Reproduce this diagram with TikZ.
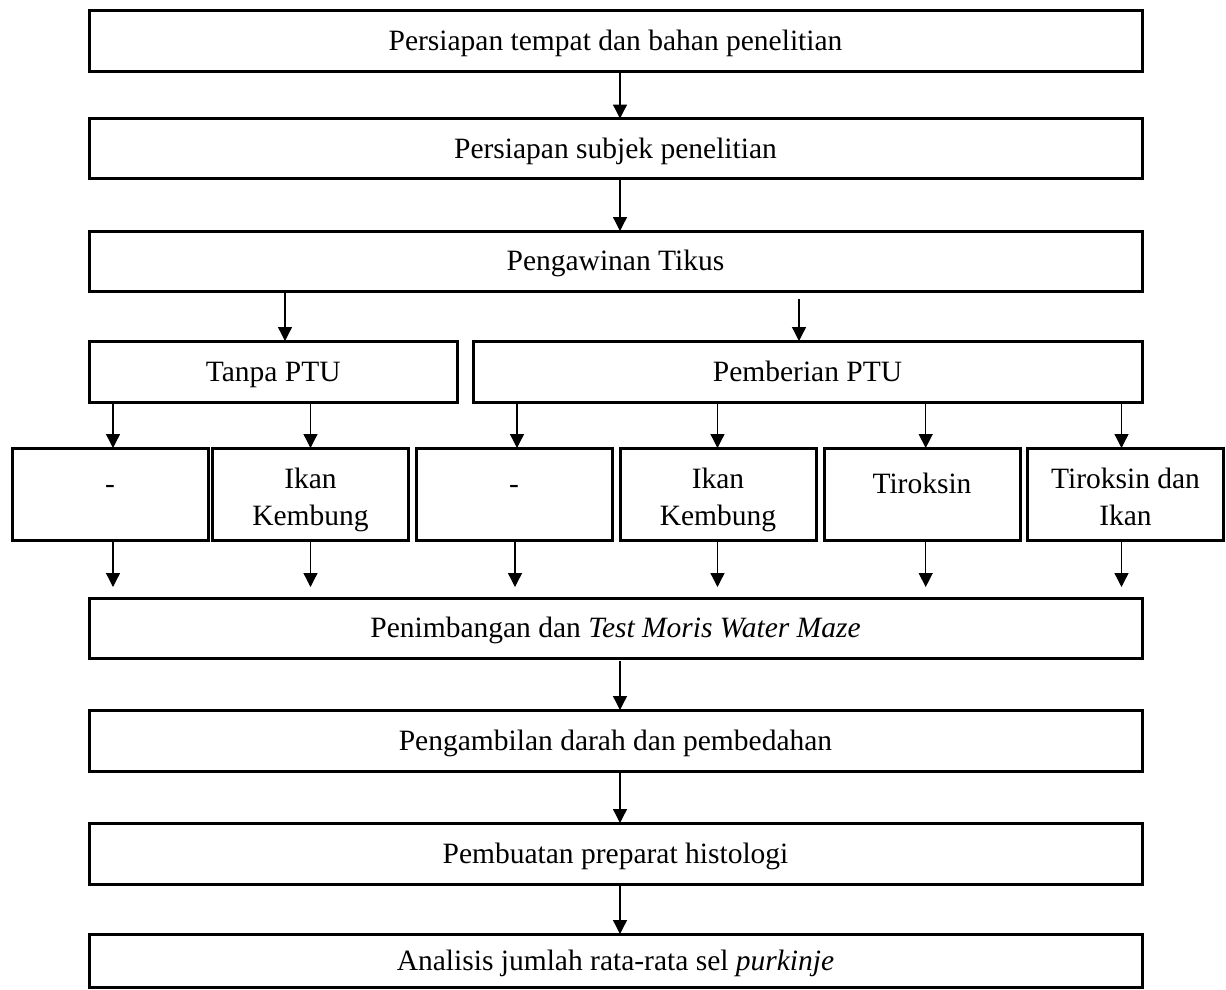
\documentclass[tikz,border=0pt]{standalone}
\usepackage{fontspec}
\setmainfont{Liberation Serif}
\usetikzlibrary{arrows.meta,calc}
\begin{document}
\begin{tikzpicture}[x=1pt,y=-1pt,
  box/.style={draw=black,line width=3pt,rectangle,inner sep=0pt,outer sep=0pt,
    font=\fontsize{29.5}{37}\selectfont,text height=19.5pt,text depth=0pt,align=center},
  wide/.style={box,minimum width=1053pt,minimum height=60pt},
  small/.style={box,minimum width=196pt,minimum height=92pt},
  lift/.style={text depth=20pt},
  twoline/.style={text height=62.5pt,text depth=0pt},
  arr/.style={line width=1.3pt,-{Triangle[length=14pt,width=14pt]}}]
\useasboundingbox (0,0) rectangle (1226,989);
% main column
\node[wide,minimum height=61pt] (b1) at (615.5,40.5) {Persiapan tempat dan bahan penelitian};
\node[wide,minimum height=60pt] (b2) at (615.5,148.5) {Persiapan subjek penelitian};
\node[wide,minimum height=60pt] (b3) at (615.5,261) {Pengawinan Tikus};
% groups
\node[box,minimum width=368.5pt,minimum height=61pt] (tanpa) at (273.25,371.5) {Tanpa PTU};
\node[box,minimum width=669pt,minimum height=61pt] (beri) at (807.5,371.5) {Pemberian PTU};
% treatments
\node[small,lift] (s1) at (110,494) {-};
\node[small,twoline] (s2) at (310.5,494) {Ikan\\Kembung};
\node[small,lift] (s3) at (514,494) {-};
\node[small,twoline] (s4) at (718,494) {Ikan\\Kembung};
\node[small,lift] (s5) at (922,494) {Tiroksin};
\node[small,twoline] (s6) at (1125.5,494) {Tiroksin dan\\Ikan};
% lower column
\node[wide] (pen) at (615.5,628) {Penimbangan dan \textit{Test Moris Water Maze}};
\node[wide,minimum height=61pt] (amb) at (615.5,740.5) {Pengambilan darah dan pembedahan};
\node[wide,minimum height=61pt] (buat) at (615.5,853.5) {Pembuatan preparat histologi};
\node[wide,minimum height=53pt] (ana) at (615.5,960.5) {Analisis jumlah rata-rata sel \textit{purkinje}};
% arrows
\draw[arr] ($(b1.south)+(4.5,0)$) -- ($(b2.north)+(4.5,0)$);
\draw[arr] ($(b2.south)+(4.5,0)$) -- ($(b3.north)+(4.5,0)$);
\draw[arr] ($(b3.south -| tanpa.north)+(11.75,0)$) -- ($(tanpa.north)+(11.75,0)$);
\draw[arr] ($(b3.south -| beri.north)+(-8.5,8)$) -- ($(beri.north)+(-8.5,0)$);
\draw[arr] ($(tanpa.south -| s1.north)+(3,0)$) -- ($(s1.north)+(3,0)$);
\draw[arr] ($(tanpa.south -| s2.north)+(0,0)$) -- ($(s2.north)+(0,0)$);
\draw[arr] ($(beri.south -| s3.north)+(3,0)$) -- ($(s3.north)+(3,0)$);
\draw[arr] ($(beri.south -| s4.north)+(-0.5,0)$) -- ($(s4.north)+(-0.5,0)$);
\draw[arr] ($(beri.south -| s5.north)+(3.7,0)$) -- ($(s5.north)+(3.7,0)$);
\draw[arr] ($(beri.south -| s6.north)+(-4,0)$) -- ($(s6.north)+(-4,0)$);
\draw[arr] ($(s1.south)+(3,0)$) -- ($(s1.south |- pen.north)+(3,-11)$);
\draw[arr] ($(s2.south)+(0,0)$) -- ($(s2.south |- pen.north)+(0,-11)$);
\draw[arr] ($(s3.south)+(1,0)$) -- ($(s3.south |- pen.north)+(1,-11)$);
\draw[arr] ($(s4.south)+(-0.5,0)$) -- ($(s4.south |- pen.north)+(-0.5,-11)$);
\draw[arr] ($(s5.south)+(3.7,0)$) -- ($(s5.south |- pen.north)+(3.7,-11)$);
\draw[arr] ($(s6.south)+(-4,0)$) -- ($(s6.south |- pen.north)+(-4,-11)$);
\draw[arr] ($(pen.south)+(4.5,3)$) -- ($(amb.north)+(4.5,0)$);
\draw[arr] ($(amb.south)+(4.5,0)$) -- ($(buat.north)+(4.5,0)$);
\draw[arr] ($(buat.south)+(4.5,0)$) -- ($(ana.north)+(4.5,0)$);
\end{tikzpicture}
\end{document}
